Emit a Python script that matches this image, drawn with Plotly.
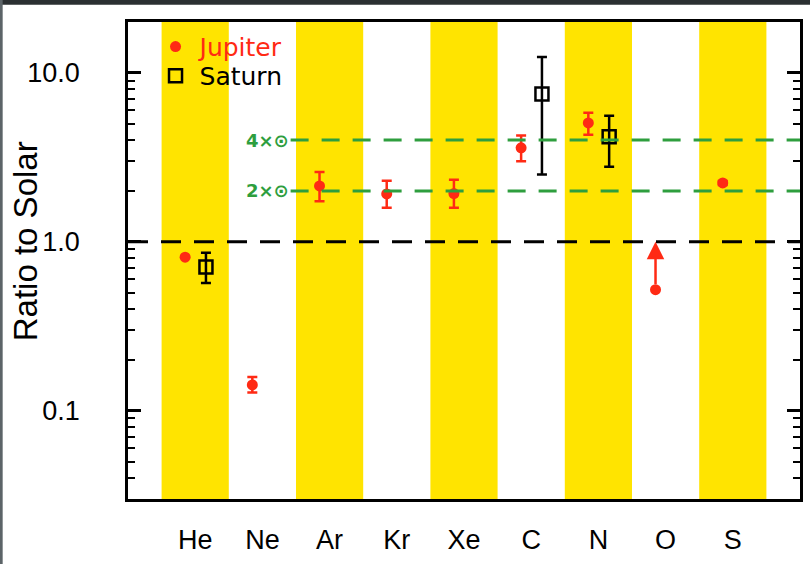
import numpy as np
import plotly.graph_objects as go

elements = ["He", "Ne", "Ar", "Kr", "Xe", "C", "N", "O", "S"]

# Jupiter: ratio to solar with errors (upper / lower)
jup_el = ["He", "Ne", "Ar", "Kr", "Xe", "C", "N", "S"]
jup_val = [0.81, 0.142, 2.14, 1.92, 1.93, 3.6, 5.05, 2.23]
jup_up = [0.0, 0.016, 0.45, 0.38, 0.40, 0.65, 0.75, 0.06]
jup_dn = [0.0, 0.014, 0.40, 0.33, 0.34, 0.60, 0.75, 0.06]

# Jupiter oxygen lower limit
jup_o_val = 0.52
jup_o_limit = 1.0

# Saturn
sat_el = ["He", "C", "N"]
sat_val = [0.71, 7.5, 4.18]
sat_up = [0.15, 4.9, 1.4]
sat_dn = [0.14, 5.0, 1.4]

solar_lines = [4, 2]
solar_labels = ["4×⊙", "2×⊙"]

idx = {e: i for i, e in enumerate(elements)}
RED = "#FF2A14"
YELLOW = "#FFE400"
GREEN = "#2E9E3E"

fig = go.Figure()

fig.add_trace(go.Scatter(
    x=[idx[e] - 0.15 for e in jup_el], y=jup_val, mode="markers",
    name="Jupiter", legend="legend",
    marker=dict(symbol="circle", size=11, color=RED),
    error_y=dict(type="data", symmetric=False, array=jup_up, arrayminus=jup_dn,
                 color=RED, thickness=2.5, width=5),
))
fig.add_trace(go.Scatter(
    x=[idx["O"] - 0.15], y=[jup_o_val], mode="markers", showlegend=False,
    marker=dict(symbol="circle", size=11, color=RED),
))
fig.add_annotation(
    x=idx["O"] - 0.15, y=np.log10(jup_o_limit), ax=idx["O"] - 0.15, ay=np.log10(jup_o_val),
    xref="x", yref="y", axref="x", ayref="y", text="", showarrow=True,
    arrowhead=2, arrowsize=1.4, arrowwidth=2.5, arrowcolor=RED, standoff=0, startstandoff=4,
)
fig.add_trace(go.Scatter(
    x=[idx[e] + 0.16 for e in sat_el], y=sat_val, mode="markers",
    name="Saturn", legend="legend2",
    marker=dict(symbol="square-open", size=13, color="black", line=dict(width=2.5)),
    error_y=dict(type="data", symmetric=False, array=sat_up, arrayminus=sat_dn,
                 color="black", thickness=2.5, width=5),
))

shapes = []
for i in range(0, len(elements), 2):
    shapes.append(dict(type="rect", xref="x", yref="paper", x0=i - 0.5, x1=i + 0.5,
                       y0=0, y1=1, fillcolor=YELLOW, line=dict(width=0), layer="below"))
shapes.append(dict(type="line", xref="paper", yref="y", x0=0, x1=1,
                   y0=1.0, y1=1.0,
                   line=dict(color="black", width=3, dash="20px,13px")))
for v in solar_lines:
    shapes.append(dict(type="line", xref="x", yref="y", x0=1.42, x1=9.0,
                       y0=v, y1=v,
                       line=dict(color=GREEN, width=3, dash="18px,13px")))
# dark page border strips
shapes.append(dict(type="rect", xref="paper", yref="paper", x0=-0.2, x1=1.02,
                   y0=1.036, y1=1.08, fillcolor="#2b3032", line=dict(width=0)))
shapes.append(dict(type="rect", xref="paper", yref="paper", x0=-0.2, x1=-0.1865,
                   y0=-0.2, y1=1.08, fillcolor="#5c6468", line=dict(width=0)))
fig.update_layout(shapes=shapes)

for v, lab in zip(solar_lines, solar_labels):
    fig.add_annotation(x=1.42, y=np.log10(v), xref="x", yref="y", text="<b>" + lab + "</b>",
                       showarrow=False, xanchor="right", yanchor="middle",
                       font=dict(family="DejaVu Sans", size=18, color=GREEN))

fig.add_annotation(x=-0.152, y=0.54, xref="paper", yref="paper", text="Ratio to Solar",
                   textangle=-90, showarrow=False, xanchor="center", yanchor="middle",
                   font=dict(family="Liberation Sans", size=33, color="black"))

minor_vals = [k * 10.0 ** p for p in (-2, -1, 0, 1) for k in range(2, 10)]
minor_vals = [m for m in minor_vals if 0.03 <= m <= 20]

fig.update_layout(
    width=810, height=564,
    margin=dict(l=128, r=10, t=22, b=65),
    paper_bgcolor="white", plot_bgcolor="white",
    font=dict(family="Liberation Sans", color="black"),
    xaxis=dict(range=[-1.0, 9.0], tickvals=list(range(len(elements))), ticktext=elements,
               showgrid=False, zeroline=False, showline=True, linecolor="black", linewidth=2.5,
               mirror=True, ticks="", ticklabelstandoff=15, automargin=False,
               tickfont=dict(size=27, family="Liberation Sans")),
    yaxis=dict(type="log", range=[np.log10(0.03), np.log10(20)],
               tickvals=[0.1, 1, 10], ticktext=["0.1", "1.0", "10.0"],
               showgrid=False, zeroline=False, showline=True, linecolor="black", linewidth=2.5,
               mirror="ticks", ticks="inside", ticklen=13, tickwidth=2.5, tickcolor="black",
               ticklabelstandoff=40, automargin=False,
               minor=dict(tickvals=minor_vals, ticks="inside", ticklen=7, tickwidth=2,
                          tickcolor="black", showgrid=False),
               tickfont=dict(size=27, family="Liberation Sans")),
    legend=dict(x=0.035, y=0.948, xanchor="left", yanchor="middle", bgcolor="rgba(0,0,0,0)",
                font=dict(family="DejaVu Sans", size=25, color=RED), itemwidth=38,
                tracegroupgap=0),
    legend2=dict(x=0.035, y=0.887, xanchor="left", yanchor="middle", bgcolor="rgba(0,0,0,0)",
                 font=dict(family="DejaVu Sans", size=25, color="black"), itemwidth=38,
                 tracegroupgap=0),
    showlegend=True,
)

fig.write_html("out.html")
